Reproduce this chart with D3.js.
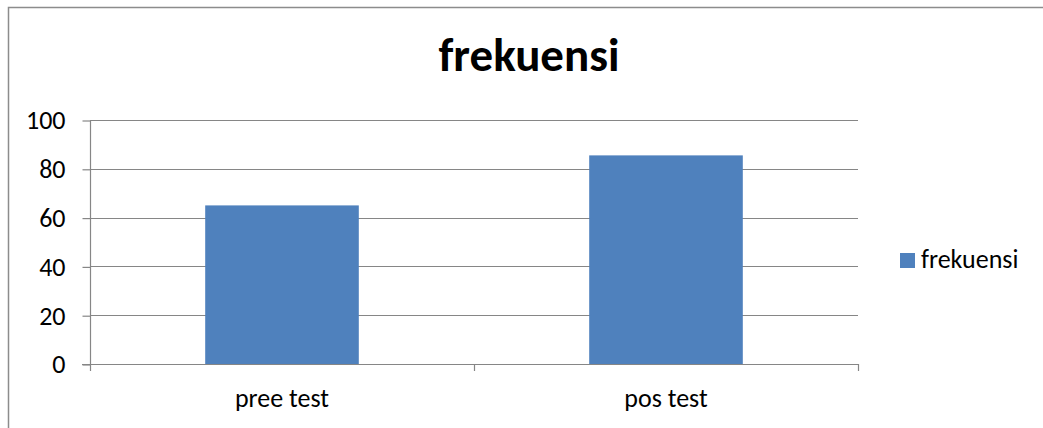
<!DOCTYPE html>
<html>
<head>
<meta charset="utf-8">
<script src="https://cdn.jsdelivr.net/npm/d3@7"></script>
<style>
  body { margin: 0; background: #fff; }
  svg text { font-family: Carlito, Calibri, Lato, "Liberation Sans", sans-serif; fill: #000; }
</style>
</head>
<body>
<svg width="1043" height="428"></svg>
<script>
var categories = ["pree test", "pos test"];
var values = [65, 85.5];
var yTicks = [0, 20, 40, 60, 80, 100];
var seriesName = "frekuensi";
var titleText = "frekuensi";

var svg = d3.select("svg"),
    plotLeft = 90, plotRight = 858, plotTop = 120, plotBottom = 364;

// outer chart border
svg.append("rect")
    .attr("x", 8.5).attr("y", 7.5)
    .attr("width", 1100).attr("height", 500)
    .attr("fill", "none")
    .attr("stroke", "#8c8c8c")
    .attr("stroke-width", 1.5);

var x = d3.scaleBand()
    .domain(categories)
    .range([plotLeft, plotRight])
    .paddingInner(0.6)
    .paddingOuter(0.3);

var y = d3.scaleLinear()
    .domain([0, 100])
    .range([plotBottom, plotTop]);

// gridlines
svg.append("g")
    .selectAll("line")
    .data(yTicks.filter(function(d) { return d > 0; }))
    .join("line")
    .attr("x1", plotLeft).attr("x2", plotRight)
    .attr("y1", function(d) { return Math.round(y(d)) + 0.5; })
    .attr("y2", function(d) { return Math.round(y(d)) + 0.5; })
    .attr("stroke", "#868686")
    .attr("stroke-width", 1.2);

// bars
svg.append("g")
    .selectAll("rect")
    .data(values)
    .join("rect")
    .attr("x", function(d, i) { return x(categories[i]); })
    .attr("y", function(d) { return y(d); })
    .attr("width", x.bandwidth())
    .attr("height", function(d) { return plotBottom - y(d); })
    .attr("fill", "#4f81bd");

// y axis
var yAxis = d3.axisLeft(y)
    .tickValues(yTicks)
    .tickSize(8)
    .tickPadding(17);

var gy = svg.append("g")
    .attr("transform", "translate(" + (plotLeft + 0.5) + ",0.5)")
    .call(yAxis);
gy.select(".domain").attr("stroke", "#868686").attr("stroke-width", 1.2)
    .attr("d", "M0," + plotTop + "V" + plotBottom);
gy.selectAll(".tick line").attr("stroke", "#868686").attr("stroke-width", 1.2);
gy.selectAll(".tick text").attr("font-size", 26).attr("font-family", null).attr("fill", "#000");

// x axis: ticks at band boundaries
var bounds = [plotLeft].concat(categories.map(function(c) { return x(c) + x.bandwidth() + x.step() * 0.3; }));
var gx = svg.append("g");
gx.append("line")
    .attr("x1", plotLeft - 8).attr("x2", plotRight)
    .attr("y1", plotBottom + 0.5).attr("y2", plotBottom + 0.5)
    .attr("stroke", "#868686").attr("stroke-width", 1.2);
gx.selectAll(".xt")
    .data(bounds)
    .join("line")
    .attr("class", "xt")
    .attr("x1", function(d) { return Math.round(d) + 0.5; })
    .attr("x2", function(d) { return Math.round(d) + 0.5; })
    .attr("y1", plotBottom).attr("y2", plotBottom + 7)
    .attr("stroke", "#868686").attr("stroke-width", 1.2);
gx.selectAll("text")
    .data(categories)
    .join("text")
    .attr("x", function(d) { return x(d) + x.bandwidth() / 2; })
    .attr("y", 407)
    .attr("text-anchor", "middle")
    .attr("font-size", 26)
    .text(function(d) { return d; });

// title
svg.append("text")
    .attr("x", 529)
    .attr("y", 71)
    .attr("text-anchor", "middle")
    .attr("font-size", 47)
    .attr("font-weight", "bold")
    .text(titleText);

// legend
var lg = svg.append("g").attr("transform", "translate(900,253)");
lg.append("rect").attr("width", 15).attr("height", 15).attr("fill", "#4f81bd");
lg.append("text").attr("x", 21).attr("y", 15).attr("font-size", 26).text(seriesName);
</script>
</body>
</html>
